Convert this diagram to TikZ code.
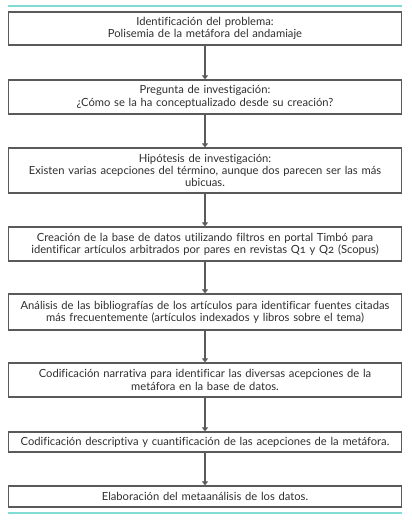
\documentclass[tikz,border=0pt]{standalone}
\usepackage{fontspec}
\setmainfont[Ligatures=NoCommon,Numbers=OldStyle]{Lato}
\usetikzlibrary{arrows.meta}
\definecolor{boxline}{HTML}{5A5A5A}
\definecolor{txt}{HTML}{2E2E2E}
\definecolor{teal}{HTML}{80DCD4}
\tikzset{
  stepbox/.style={draw=boxline, line width=1.2pt, minimum width=393pt, text width=390pt,
    align=center, inner sep=0pt, text=txt, font=\fontsize{11.2}{12.3}\selectfont},
  arr/.style={draw=boxline, line width=1.5pt, -{Triangle[width=6pt,length=4pt]}, shorten >=0pt},
  rule/.style={draw=teal, line width=1.5pt}
}
\begin{document}
\begin{tikzpicture}[x=1pt,y=-1pt]
\useasboundingbox (0,0) rectangle (412,522);
\coordinate (tl) at (8,6);
\coordinate (tr) at (402,6);
\coordinate (bl) at (8,513);
\coordinate (br) at (402,513);
\draw[rule] (tl) -- (tr);
\draw[rule] (bl) -- (br);
\node[stepbox, minimum height=33pt] (b1) at (205,28.5) {Identificación del problema:\\Polisemia de la metáfora del andamiaje};
\node[stepbox, minimum height=34pt] (b2) at (205,97) {Pregunta de investigación:\\¿Cómo se la ha conceptualizado desde su creación?};
\node[stepbox, minimum height=45pt] (b3) at (205,170.5) {Hipótesis de investigación:\\Existen varias acepciones del término, aunque dos parecen ser las más\\ubicuas.};
\node[stepbox, minimum height=34pt] (b4) at (205,244) {Creación de la base de datos utilizando filtros en portal Timbó para\\identificar artículos arbitrados por pares en revistas Q1 y Q2 (Scopus)};
\node[stepbox, minimum height=36pt] (b5) at (205,312) {Análisis de las bibliografías de los artículos para identificar fuentes citadas\\más frecuentemente (artículos indexados y libros sobre el tema)};
\node[stepbox, minimum height=34pt] (b6) at (205,380) {Codificación narrativa para identificar las diversas acepciones de la\\metáfora en la base de datos.};
\node[stepbox, minimum height=20pt] (b7) at (205,442) {Codificación descriptiva y cuantificación de las acepciones de la metáfora.};
\node[stepbox, minimum height=21pt] (b8) at (205,496.5) {Elaboración del metaanálisis de los datos.};
\draw[arr] (b1) -- (b2);
\draw[arr] (b2) -- (b3);
\draw[arr] (b3) -- (b4);
\draw[arr] (b4) -- (b5);
\draw[arr] (b5) -- (b6);
\draw[arr] (b6) -- (b7);
\draw[arr] (b7) -- (b8);
\end{tikzpicture}
\end{document}
